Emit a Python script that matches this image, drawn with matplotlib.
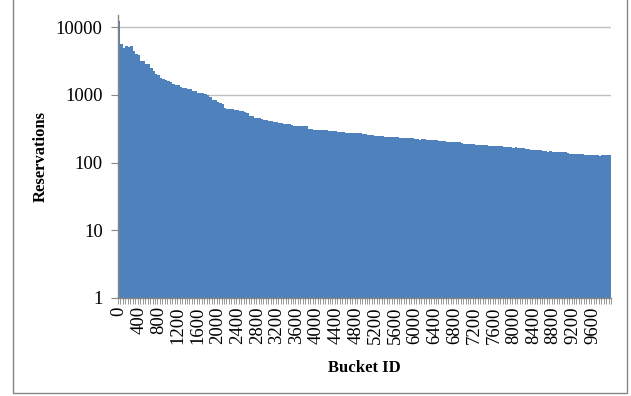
import numpy as np
import matplotlib
matplotlib.use("Agg")
import matplotlib.pyplot as plt
from matplotlib.patches import Rectangle
from matplotlib.ticker import FixedLocator, NullFormatter, NullLocator

# Bucket IDs (step of 50) and reservation counts per bucket
bucket_ids = list(range(0, 10000, 50))
reservations = [
    12200, 5630, 4920, 5210, 5090, 5210, 4440, 3930, 3800, 3130,
    3130, 2830, 2830, 2470, 2230, 2010, 1970, 1760, 1700, 1630,
    1570, 1520, 1450, 1370, 1370, 1320, 1260, 1260, 1220, 1210,
    1140, 1130, 1060, 1060, 1060, 1020, 997, 932, 832, 832,
    778, 752, 727, 634, 613, 613, 613, 593, 593, 573,
    573, 554, 535, 489, 489, 452, 452, 452, 437, 422,
    422, 408, 408, 394, 394, 381, 381, 368, 368, 368,
    356, 344, 344, 344, 344, 344, 344, 311, 311, 301,
    301, 301, 301, 301, 301, 290, 290, 290, 290, 281,
    281, 281, 271, 271, 271, 271, 271, 271, 271, 262,
    262, 254, 254, 254, 245, 245, 245, 245, 237, 237,
    237, 237, 237, 237, 229, 229, 229, 229, 229, 229,
    221, 221, 216, 221, 221, 214, 214, 214, 214, 214,
    207, 207, 207, 200, 200, 200, 200, 200, 200, 193,
    187, 187, 187, 187, 187, 181, 181, 181, 181, 181,
    175, 175, 175, 175, 175, 175, 169, 169, 169, 169,
    163, 169, 163, 163, 163, 158, 158, 152, 152, 152,
    152, 152, 147, 149, 142, 147, 142, 141, 141, 141,
    141, 141, 136, 133, 133, 133, 133, 133, 133, 129,
    129, 128, 128, 128, 128, 124, 129, 129, 129, 129,
]
y_ticks = [1, 10, 100, 1000, 10000]
label_every = 8

plt.rcParams['font.family'] = ['Liberation Serif', 'DejaVu Serif']

W, H = 631, 396
fig = plt.figure(figsize=(W / 100, H / 100), dpi=100)

# plot area in pixel units
left, right, top, bottom = 118, 611, 15, 298
ax = fig.add_axes([left / W, 1 - bottom / H, (right - left) / W, (bottom - top) / H])

n = len(bucket_ids)
pos = np.arange(n)
ax.bar(pos, reservations, width=1.0, align='edge', color='#4f81bd',
       edgecolor='none', zorder=2)

ax.set_yscale('log')
decade_px = (bottom - 27) / 4.0
ax.set_ylim(1, 10 ** ((bottom - top) / decade_px))
ax.set_xlim(0, n)

ax.yaxis.set_major_locator(FixedLocator(y_ticks))
ax.yaxis.set_minor_locator(NullLocator())
ax.set_yticklabels([str(t) for t in y_ticks], fontsize=13.5)
ax.yaxis.grid(True, color='#c0c0c0', linewidth=1.0, zorder=0)

# category labels every 8 buckets, tick marks between every category
major = [i + 0.5 for i in range(0, n, label_every)]
ax.xaxis.set_major_locator(FixedLocator(major))
ax.set_xticklabels([str(bucket_ids[i]) for i in range(0, n, label_every)],
                   rotation=90, fontsize=13.5)
ax.xaxis.set_minor_locator(FixedLocator(np.arange(0, n + 1)))
ax.xaxis.set_minor_formatter(NullFormatter())
ax.tick_params(axis='x', which='major', length=0, pad=6)
ax.tick_params(axis='x', which='minor', length=4, width=0.6, color='#868686')
ax.tick_params(axis='y', which='major', length=5, width=0.8, color='#868686', pad=6)

for side in ('top', 'right'):
    ax.spines[side].set_visible(False)
for side in ('left', 'bottom'):
    ax.spines[side].set_color('#868686')
    ax.spines[side].set_linewidth(1.0)
ax.set_axisbelow(True)

# axis titles
fig.text(41 / W, 1 - 157 / H, 'Reservations', rotation=90, ha='center', va='center',
         fontsize=12, fontweight='bold')
fig.text(364 / W, 1 - 368 / H, 'Bucket ID', ha='center', va='center',
         fontsize=12, fontweight='bold')

# chart frame
fig.patches.append(Rectangle((13 / W, 1 - 393 / H), (627 - 13) / W, 393 / H + 0.05,
                             transform=fig.transFigure, fill=False,
                             edgecolor='#868686', linewidth=1.0, clip_on=False))

fig.savefig('out.png', dpi=100)
